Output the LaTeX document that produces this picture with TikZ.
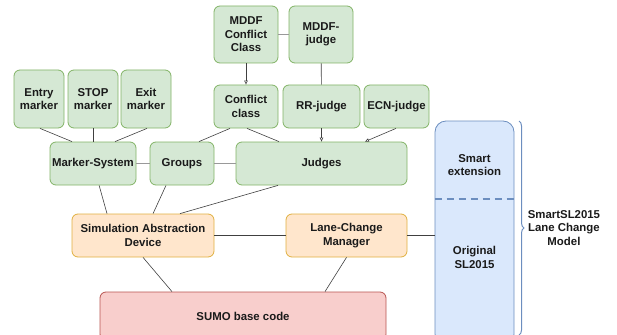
\documentclass[tikz,border=0pt]{standalone}
\usepackage{fontspec}
\setmainfont{Liberation Sans}
\usetikzlibrary{positioning,calc,arrows.meta,decorations.pathreplacing}

\definecolor{grnfill}{HTML}{D5E8D4}
\definecolor{grnline}{HTML}{82B366}
\definecolor{orgfill}{HTML}{FFE6CC}
\definecolor{orgline}{HTML}{E0B040}
\definecolor{redfill}{HTML}{F8CECC}
\definecolor{redline}{HTML}{B85450}
\definecolor{blufill}{HTML}{DAE8FC}
\definecolor{bluline}{HTML}{6C8EBF}
\definecolor{txt}{HTML}{1A1A1A}

\begin{document}
\begin{tikzpicture}[x=1pt, y=-1pt,
    font=\bfseries\fontsize{11.4}{13.4}\selectfont, text=txt,
    box/.style={rectangle, rounded corners=6pt, draw, line width=0.8pt,
      align=center, inner sep=0pt},
    grn/.style={box, fill=grnfill, draw=grnline},
    org/.style={box, fill=orgfill, draw=orgline},
    link/.style={draw=black!75, line width=0.6pt},
    bus/.style={draw=black!40, line width=1.4pt},
    arr/.style={link, -{Triangle[open, length=4pt, width=3.5pt]}}
  ]

    \useasboundingbox (0,0) rectangle (617,334);

    % top rows
    \node [grn, minimum width=64pt, minimum height=57pt] (mddfcc) at (246,34.5)
      {MDDF\\Conflict\\Class};
    \node [grn, minimum width=64pt, minimum height=57pt] (mddfj) at (321,34.5)
      {MDDF-\\judge};

    \node [grn, minimum width=50pt, minimum height=58pt] (entry) at (39,99)
      {Entry\\marker};
    \node [grn, minimum width=50pt, minimum height=58pt] (stop) at (93,99)
      {STOP\\marker};
    \node [grn, minimum width=50pt, minimum height=58pt] (exit) at (146,99)
      {Exit\\marker};

    \node [grn, minimum width=64pt, minimum height=43pt] (confcl) at (246,106.5)
      {Conflict\\class};
    \node [grn, minimum width=77pt, minimum height=43pt] (rrj) at (321.5,106.5)
      {RR-judge};
    \node [grn, minimum width=65pt, minimum height=43pt] (ecnj) at (396.5,106.5)
      {ECN-judge};

    \node [grn, minimum width=86pt, minimum height=43pt] (marksys) at (93,163.5)
      {Marker-System};
    \node [grn, minimum width=64pt, minimum height=43pt] (groups) at (182,163.5)
      {Groups};
    \node [grn, minimum width=171pt, minimum height=43pt] (judges) at (321.5,163.5)
      {Judges};

    \node [org, minimum width=142pt, minimum height=43pt] (sad) at (143,235.5)
      {Simulation Abstraction\\Device};
    \node [org, minimum width=121pt, minimum height=43pt] (lcm) at (346.5,235.5)
      {Lane-Change\\Manager};

    \node [box, fill=redfill, draw=redline, minimum width=286pt, minimum height=48pt]
      (sumo) at (243,316) {SUMO base code};

    % lane change model column
    \node [box, rounded corners=11pt, fill=blufill, draw=bluline,
      minimum width=79pt, minimum height=224pt] (lcmodel) at (474.5,233) {};
    \draw [bluline, line width=1.6pt, dash pattern=on 7pt off 5pt]
      (lcmodel.west |- 0,199) -- (lcmodel.east |- 0,199);
    \node [align=center] (smart) at (474.5,165) {Smart\\extension};
    \node [align=center] (orig) at (474.5,257.5) {Original\\SL2015};

    \draw [decorate, decoration={brace, amplitude=5pt}, bluline, line width=1pt]
      (519,121) -- (519,335)
      node [txt, midway, right=5pt, align=center] (model)
        {SmartSL2015\\Lane Change\\Model};

    % connectors
    \draw [arr] (mddfcc) -- (confcl);
    \draw [bus] (mddfcc) -- (mddfj);
    \draw [link] (mddfj) -- (rrj);

    \draw [link] ($(entry.south)+(1,0)$) -- ($(marksys.north)+(-21,0)$);
    \draw [link] (stop) -- (marksys);
    \draw [link] ($(exit.south)+(1,0)$) -- ($(marksys.north)+(22,0)$);

    \draw [link] ($(confcl.south)+(-16,0)$) -- ($(groups.north)+(17,0)$);
    \draw [link] ($(confcl.south)+(1,0)$) -- ($(judges.north)+(-42.5,0)$);
    \draw [arr] (rrj) -- (judges);
    \draw [arr] ($(ecnj.south)+(-0.5,0)$) -- ($(judges.north)+(43.5,0)$);

    \draw [bus] (marksys) -- (groups);
    \draw [bus] (groups) -- (judges);

    \draw [link] (marksys) -- ($(sad.north)+(-36,0)$);
    \draw [link] ($(groups.south)+(-16,0)$) -- (sad);
    \draw [link] ($(judges.south)+(-43.5,0)$) -- ($(sad.north)+(37,0)$);

    \draw [link] (sad) -- (lcm);
    \draw [link] (lcm.east) -- (lcm.east -| lcmodel.west);

    \draw [link] (sad.south) -- ($(sumo.north)+(-71,0)$);
    \draw [link] (lcm.south) -- ($(sumo.north)+(82,0)$);

  \end{tikzpicture}
\end{document}
